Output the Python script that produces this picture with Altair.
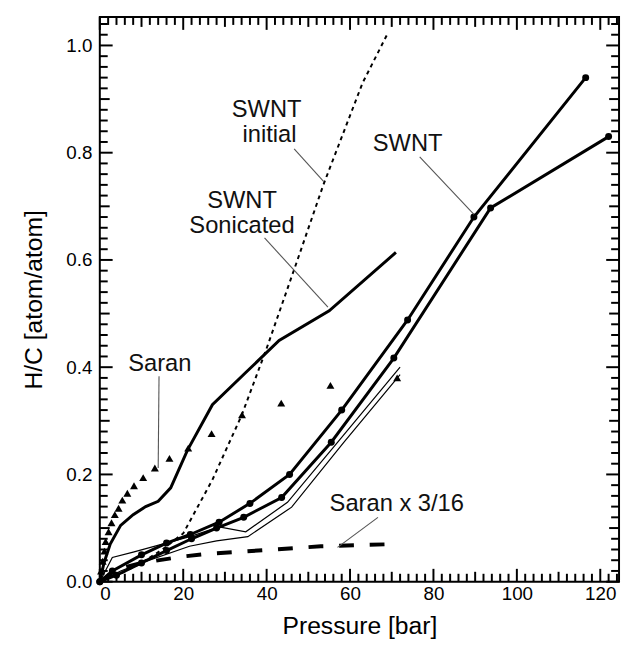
import altair as alt
import pandas as pd

# ---------------- data ----------------
init_x = [0, 5, 10, 15, 20, 27, 34, 40, 47.4, 53.6, 63, 69]
init_y = [0, 0.015, 0.035, 0.06, 0.09, 0.19, 0.31, 0.435, 0.6, 0.74, 0.93, 1.022]

son_x = [0, 1, 2.5, 5, 8, 11, 14, 17, 21, 27, 35, 43, 55, 71]
son_y = [0, 0.035, 0.07, 0.105, 0.125, 0.14, 0.15, 0.175, 0.245, 0.33, 0.39, 0.45, 0.505, 0.614]

saran_x = [0.3, 0.7, 1.1, 1.4, 2.1, 2.8, 3.6, 4.5, 5.4, 6.6, 8.2, 10.4, 13.2, 16.7,
           21.2, 26.8, 34.1, 43.5, 55.3, 71.3]
saran_y = [0.02, 0.038, 0.057, 0.075, 0.093, 0.11, 0.125, 0.137, 0.152, 0.165, 0.179,
           0.194, 0.212, 0.23, 0.249, 0.276, 0.311, 0.333, 0.366, 0.38]

s316_x = [0, 5, 10, 20, 26, 40, 53, 70]
s316_y = [0, 0.025, 0.035, 0.047, 0.052, 0.059, 0.066, 0.07]

swa_x = [0, 3, 10, 16, 21.7, 28.6, 36, 45.5, 58, 73.8, 89.7, 116.5]
swa_y = [0, 0.02, 0.05, 0.072, 0.088, 0.111, 0.146, 0.20, 0.32, 0.488, 0.68, 0.94]

swb_x = [0, 4, 10, 16, 22, 28, 34.5, 43.6, 55.5, 70.5, 93.7, 122]
swb_y = [0, 0.012, 0.035, 0.058, 0.08, 0.1, 0.12, 0.157, 0.26, 0.417, 0.697, 0.83]

thin1_x = [0, 3, 8, 15, 22, 28.6, 35, 45, 57, 72]
thin1_y = [0, 0.045, 0.055, 0.07, 0.085, 0.102, 0.093, 0.148, 0.26, 0.40]

thin2_x = [0, 5, 10, 21.5, 28, 35.5, 46, 58.5, 72]
thin2_y = [0, 0.02, 0.035, 0.066, 0.076, 0.084, 0.139, 0.26, 0.386]

label_text = ["SWNT", "initial", "SWNT", "Sonicated", "SWNT", "Saran", "Saran x 3/16"]
label_x = [40.0, 40.7, 34.1, 34.1, 73.8, 14.4, 71.2]
label_y = [0.880, 0.832, 0.709, 0.663, 0.816, 0.405, 0.144]

lead_x1 = [46.6, 39.5, 76.7, 14.2, 66.7]
lead_y1 = [0.807, 0.641, 0.792, 0.383, 0.120]
lead_x2 = [53.7, 54.7, 89.7, 14.0, 57.0]
lead_y2 = [0.746, 0.512, 0.685, 0.212, 0.064]

x_major = [0, 20, 40, 60, 80, 100, 120]
x_medium = [10, 30, 50, 70, 90, 110]
x_minor = [v for v in range(2, 125, 2) if v % 10 != 0]
y_major = [0.0, 0.2, 0.4, 0.6, 0.8, 1.0]
y_medium = [0.1, 0.3, 0.5, 0.7, 0.9]
y_minor = [round(i * 0.02, 2) for i in range(1, 53) if i % 5 != 0]

# ---------------- chart ----------------
W, H = 526, 572
FONT = "Liberation Sans"
XDOM = [0, 124.5]
YDOM = [0, 1.053]
PX_X = XDOM[1] / W   # data units per pixel
PX_Y = YDOM[1] / H

XSCALE = alt.Scale(domain=XDOM, nice=False, zero=False)
YSCALE = alt.Scale(domain=YDOM, nice=False, zero=False)
XAXIS = alt.Axis(values=x_major, ticks=False, domain=False, grid=False,
                 labelFontSize=19, labelPadding=3, labelFont=FONT, labelColor="black",
                 title="Pressure [bar]", titleFontSize=25, titleFont=FONT,
                 titleFontWeight="normal", titlePadding=10, titleColor="black")
YAXIS = alt.Axis(values=y_major, format=".1f", ticks=False, domain=False,
                 grid=False, labelFontSize=19, labelPadding=8, labelFont=FONT,
                 labelColor="black", title="H/C [atom/atom]", titleFontSize=25,
                 titleFont=FONT, titleFontWeight="normal", titlePadding=20,
                 titleColor="black")


def df(xs, ys):
    return pd.DataFrame({"x": xs, "y": ys})


# tick segment table (inward ticks on all four sides) built from the tick lists
rows = []
for vals, length in [(x_major, 13), (x_medium, 10), (x_minor, 8)]:
    L = length * PX_Y
    for v in vals:
        rows.append((v, YDOM[0], v, YDOM[0] + L))
        rows.append((v, YDOM[1], v, YDOM[1] - L))
for vals, length in [(y_major, 13), (y_medium, 10), (y_minor, 8)]:
    L = length * PX_X
    for v in vals:
        rows.append((XDOM[0], v, XDOM[0] + L, v))
        rows.append((XDOM[1], v, XDOM[1] - L, v))
ticks = pd.DataFrame(rows, columns=["x", "y", "x2", "y2"])

XE = alt.X("x:Q", scale=XSCALE, axis=XAXIS)
YE = alt.Y("y:Q", scale=YSCALE, axis=YAXIS)

layers = []

# frame ticks (inward)
layers.append(alt.Chart(ticks).mark_rule(color="#000000", strokeWidth=2).encode(
    x=XE, y=YE, x2="x2:Q", y2="y2:Q"))

# SWNT initial (dotted)
layers.append(alt.Chart(df(init_x, init_y)).mark_line(
    color="black", strokeWidth=2, strokeDash=[4, 4]).encode(x=XE, y=YE, order="x:Q"))

# SWNT sonicated
layers.append(alt.Chart(df(son_x, son_y)).mark_line(
    color="black", strokeWidth=3).encode(x=XE, y=YE, order="x:Q"))

# Saran x 3/16 (thick dashed)
layers.append(alt.Chart(df(s316_x, s316_y)).mark_line(
    color="black", strokeWidth=4, strokeDash=[15, 16]).encode(x=XE, y=YE, order="x:Q"))

# thin SWNT lines
for xs, ys in [(thin1_x, thin1_y), (thin2_x, thin2_y)]:
    layers.append(alt.Chart(df(xs, ys)).mark_line(
        color="black", strokeWidth=1.2).encode(x=XE, y=YE, order="x:Q"))

# thick SWNT lines with markers
for xs, ys in [(swa_x, swa_y), (swb_x, swb_y)]:
    base = alt.Chart(df(xs, ys))
    layers.append(base.mark_line(color="black", strokeWidth=3).encode(x=XE, y=YE, order="x:Q"))
    layers.append(base.mark_point(color="black", filled=True, opacity=1, size=50, shape="circle")
                  .encode(x=XE, y=YE))

# Saran triangles
layers.append(alt.Chart(df(saran_x, saran_y)).mark_point(
    color="black", filled=True, opacity=1, size=65, shape="triangle-up").encode(x=XE, y=YE))

# leader lines
lead = pd.DataFrame({"x": lead_x1, "y": lead_y1, "x2": lead_x2, "y2": lead_y2})
layers.append(alt.Chart(lead).mark_rule(color="#555555", strokeWidth=1.1).encode(
    x=XE, y=YE, x2="x2:Q", y2="y2:Q"))

# labels
lab = pd.DataFrame({"x": label_x, "y": label_y, "t": label_text})
layers.append(alt.Chart(lab).mark_text(
    font=FONT, fontSize=24, color="#111111", align="center", baseline="middle").encode(
    x=XE, y=YE, text="t:N"))

chart = alt.layer(*layers).properties(
    width=W, height=H,
    autosize=alt.AutoSizeParams(type="none"),
    padding={"left": 93, "top": 5, "right": 3, "bottom": 60},
    background="white",
).configure_view(stroke="#000000", strokeWidth=2)

chart.save("out.html", embed_options={"renderer": "svg", "actions": False})
